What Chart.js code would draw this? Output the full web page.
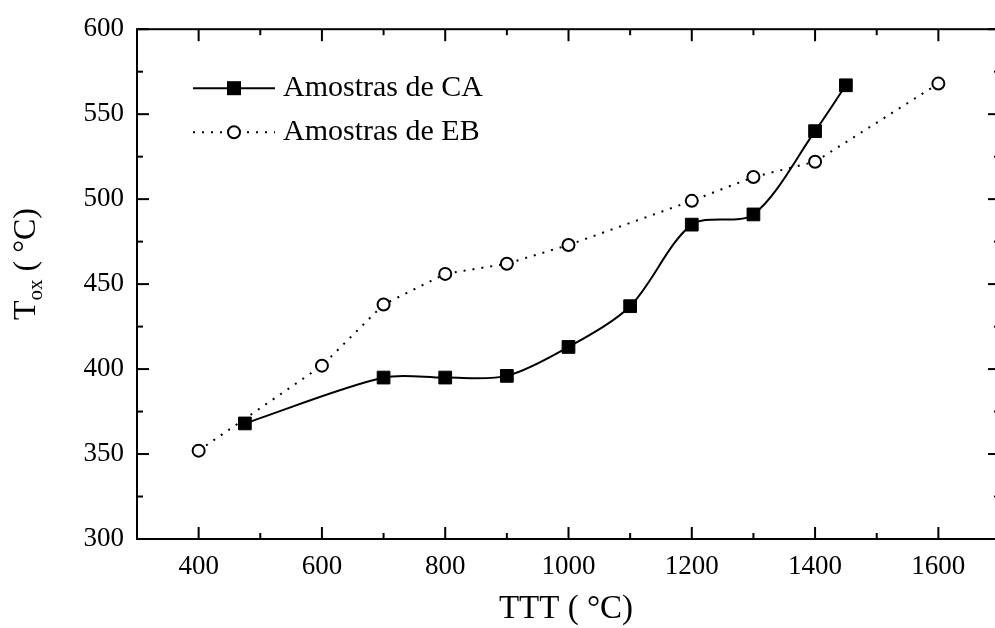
<!DOCTYPE html>
<html>
<head>
<meta charset="utf-8">
<script src="https://cdn.jsdelivr.net/npm/chart.js@4"></script>
<style>
  html, body { margin: 0; padding: 0; background: #fff; overflow: hidden; }
  #wrap { width: 995px; height: 628px; overflow: hidden; }
  #chart { display: block; }
</style>
</head>
<body>
<div id="wrap"><canvas id="chart" width="1001" height="628"></canvas></div>
<script>
  // values
  const caX = [475, 700, 800, 900, 1000, 1100, 1200, 1300, 1400, 1450];
  const caY = [368, 395, 395, 396, 413, 437, 485, 491, 540, 567];
  const ebX = [400, 600, 700, 800, 900, 1000, 1200, 1300, 1400, 1600];
  const ebY = [352, 402, 438, 456, 462, 473, 499, 513, 522, 568];
  const xTicks = [400, 600, 800, 1000, 1200, 1400, 1600];
  const xMinor = [300, 500, 700, 900, 1100, 1300, 1500, 1700];
  const yTicks = [300, 350, 400, 450, 500, 550, 600];
  const yMinor = [325, 375, 425, 475, 525, 575];
  const seriesNames = ['Amostras de CA', 'Amostras de EB'];

  const serif = "'Liberation Serif', 'Times New Roman', serif";
  const pts = (xs, ys) => xs.map((v, i) => ({ x: v, y: ys[i] }));

  // frame, inward ticks, legend and axis titles
  const frame = {
    id: 'frame',
    afterDraw(chart) {
      const { ctx, chartArea: a, scales: { x, y } } = chart;
      ctx.save();
      ctx.strokeStyle = '#000'; ctx.fillStyle = '#000'; ctx.lineWidth = 2;
      ctx.strokeRect(a.left, a.top, a.width, a.height);
      const seg = (x1, y1, x2, y2) => { ctx.beginPath(); ctx.moveTo(x1, y1); ctx.lineTo(x2, y2); ctx.stroke(); };
      xTicks.forEach(v => { const p = x.getPixelForValue(v); seg(p, a.bottom, p, a.bottom - 12); seg(p, a.top, p, a.top + 12); });
      xMinor.forEach(v => { const p = x.getPixelForValue(v); seg(p, a.bottom, p, a.bottom - 6); seg(p, a.top, p, a.top + 6); });
      yTicks.forEach(v => { const p = y.getPixelForValue(v); seg(a.left, p, a.left + 12, p); seg(a.right, p, a.right - 12, p); });
      yMinor.forEach(v => { const p = y.getPixelForValue(v); seg(a.left, p, a.left + 6, p); seg(a.right, p, a.right - 6, p); });

      // legend inside the plot
      const lx = a.left + 56, mx = a.left + 97, rx = a.left + 138;
      const rows = [a.top + 59, a.top + 103];
      ctx.font = '30px ' + serif; ctx.textBaseline = 'middle'; ctx.textAlign = 'left';
      seg(lx, rows[0], rx, rows[0]);
      ctx.fillRect(mx - 7, rows[0] - 7, 14, 14);
      ctx.fillText(seriesNames[0], a.left + 146, rows[0]);
      ctx.setLineDash([2, 7]);
      seg(lx, rows[1], rx, rows[1]);
      ctx.setLineDash([]);
      ctx.beginPath(); ctx.arc(mx, rows[1], 6, 0, Math.PI * 2);
      ctx.fillStyle = '#fff'; ctx.fill(); ctx.stroke();
      ctx.fillStyle = '#000';
      ctx.fillText(seriesNames[1], a.left + 146, rows[1]);

      // x title
      ctx.font = '33px ' + serif; ctx.textAlign = 'center';
      ctx.fillText('TTT ( \u00B0C)', 566, 609);

      // y title with subscript
      ctx.save();
      ctx.translate(27, 264); ctx.rotate(-Math.PI / 2);
      const big = '32px ' + serif, small = '21px ' + serif;
      ctx.font = big; const wT = ctx.measureText('T').width;
      const rest = ' ( \u00B0C)'; const wR = ctx.measureText(rest).width;
      ctx.font = small; const wS = ctx.measureText('ox').width;
      let cx = -(wT + wS + wR) / 2;
      ctx.textAlign = 'left';
      ctx.font = big; ctx.fillText('T', cx, 0); cx += wT;
      ctx.font = small; ctx.fillText('ox', cx, 9); cx += wS;
      ctx.font = big; ctx.fillText(rest, cx, 0);
      ctx.restore();
      ctx.restore();
    }
  };

  const tickFont = { family: serif, size: 27 };

  new Chart(document.getElementById('chart'), {
    type: 'scatter',
    data: {
      datasets: [
        {
          label: seriesNames[0], data: pts(caX, caY), showLine: true,
          borderColor: '#000', borderWidth: 2, tension: 0.3,
          pointStyle: 'rect', pointRadius: 9, pointBackgroundColor: '#000',
          pointBorderColor: '#000', pointBorderWidth: 1
        },
        {
          label: seriesNames[1], data: pts(ebX, ebY), showLine: true,
          borderColor: '#000', borderWidth: 2, borderDash: [2, 7], tension: 0,
          pointStyle: 'circle', pointRadius: 6, pointBackgroundColor: '#fff',
          pointBorderColor: '#000', pointBorderWidth: 2
        }
      ]
    },
    options: {
      responsive: false, animation: false,
      layout: { autoPadding: false, padding: { top: 25, right: 1, left: 0, bottom: 0 } },
      plugins: { legend: { display: false }, tooltip: { enabled: false } },
      scales: {
        x: {
          type: 'linear', min: 300, max: 1700,
          afterBuildTicks: s => { s.ticks = xTicks.map(v => ({ value: v })); },
          afterFit: s => { s.height = 89; },
          grid: { display: false, drawTicks: false }, border: { display: false },
          ticks: { color: '#000', font: tickFont, padding: 12, maxRotation: 0, autoSkip: false, callback: v => String(v) }
        },
        y: {
          type: 'linear', min: 300, max: 600,
          afterBuildTicks: s => { s.ticks = yTicks.map(v => ({ value: v })); },
          afterFit: s => { s.width = 137; },
          grid: { display: false, drawTicks: false }, border: { display: false },
          ticks: { color: '#000', font: tickFont, padding: 13, autoSkip: false, callback: v => String(v) }
        }
      }
    },
    plugins: [frame]
  });
</script>
</body>
</html>
